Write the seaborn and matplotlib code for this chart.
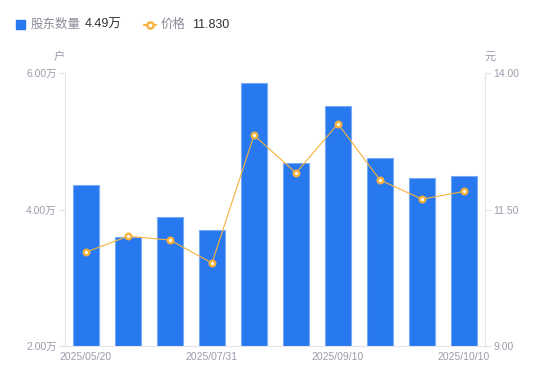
import numpy as np
import pandas as pd
import seaborn as sns
from matplotlib import pyplot as plt
from matplotlib.lines import Line2D
from matplotlib.patches import Rectangle

# data
dates = ['2025/05/20', '2025/06/10', '2025/06/30', '2025/07/31', '2025/08/10',
         '2025/08/20', '2025/09/10', '2025/09/19', '2025/09/30', '2025/10/10']
holders = [4.36, 3.60, 3.89, 3.70, 5.85, 4.68, 5.52, 4.75, 4.46, 4.49]   # 万户
price = [10.72, 11.01, 10.94, 10.52, 12.86, 12.17, 13.07, 12.04, 11.69, 11.83]  # 元
left_ticks = [2.0, 4.0, 6.0]
right_ticks = [9.0, 11.5, 14.0]
shown_dates = ['2025/05/20', '2025/07/31', '2025/09/10', '2025/10/10']

BLUE = '#2878f0'
ORANGE = '#f7b23b'
GRAY = '#9a9cab'
AXIS = '#e3e3e8'

sns.set_style('white')
plt.rcParams['font.family'] = ['Liberation Sans', 'Noto Sans CJK SC', 'DejaVu Sans']

df = pd.DataFrame({'date': dates, 'holders': holders, 'price': price})

fig = plt.figure(figsize=(5.5, 3.81), dpi=100)
ax = fig.add_axes([65 / 550, 35 / 381, 420 / 550, 273 / 381])

sns.barplot(data=df, x='date', y='holders', color=BLUE, width=0.6,
            edgecolor='#78aaf5', linewidth=0.8, saturation=1, ax=ax)
ax.set_ylim(2, 6)
ax.set_yticks(left_ticks)
ax.set_yticklabels([f'{v:.2f}万' for v in left_ticks])

ax2 = ax.twinx()
sns.pointplot(data=df, x='date', y='price', color=ORANGE, markers='o',
              markersize=4, markerfacecolor='white', markeredgecolor=ORANGE,
              markeredgewidth=1.7, linewidth=0.8, ax=ax2)
ax2.set_ylim(9, 14)
ax2.set_yticks(right_ticks)
ax2.set_yticklabels([f'{v:.2f}' for v in right_ticks])

ax.set_xlim(-0.5, len(dates) - 0.5)
ax.set_xticks([dates.index(d) for d in shown_dates])
ax.set_xticklabels(shown_dates)

for a in (ax, ax2):
    a.set_xlabel('')
    a.set_ylabel('')
    for s in a.spines.values():
        s.set_visible(False)
    a.tick_params(axis='both', colors=GRAY, labelsize=7.5, length=4, width=0.8)
    a.tick_params(axis='y', color=AXIS, labelcolor=GRAY, pad=2)
    a.tick_params(axis='x', length=0, pad=4)

ax.spines['left'].set_visible(True)
ax.spines['left'].set_color(AXIS)
ax.spines['bottom'].set_visible(True)
ax.spines['bottom'].set_color(AXIS)
ax2.spines['right'].set_visible(True)
ax2.spines['right'].set_color(AXIS)

# unit labels
fig.text(59 / 550, 1 - 57 / 381, '户', color=GRAY, fontsize=8, ha='center', va='center')
fig.text(490 / 550, 1 - 57 / 381, '元', color=GRAY, fontsize=8, ha='center', va='center')

# legend at top
fig.patches.append(Rectangle((16 / 550, 1 - 29 / 381), 9 / 550, 9 / 381,
                             transform=fig.transFigure, color=BLUE, figure=fig))
fig.text(31 / 550, 1 - 24.5 / 381, '股东数量', color='#8a8c99', fontsize=9, va='center')
fig.text(85 / 550, 1 - 24.5 / 381, '4.49万', color='#333333', fontsize=9, va='center')
fig.lines.append(Line2D([144 / 550, 156 / 550], [1 - 24.5 / 381] * 2,
                        transform=fig.transFigure, color=ORANGE, linewidth=1.5,
                        figure=fig))
fig.lines.append(Line2D([150 / 550], [1 - 24.5 / 381], transform=fig.transFigure,
                        marker='o', markersize=4.5, markerfacecolor='white',
                        markeredgecolor=ORANGE, markeredgewidth=1.7, figure=fig))
fig.text(161 / 550, 1 - 24.5 / 381, '价格', color='#8a8c99', fontsize=9, va='center')
fig.text(192 / 550, 1 - 24.5 / 381, '11.830', color='#333333', fontsize=9, va='center')

fig.savefig('out.png', dpi=100)
